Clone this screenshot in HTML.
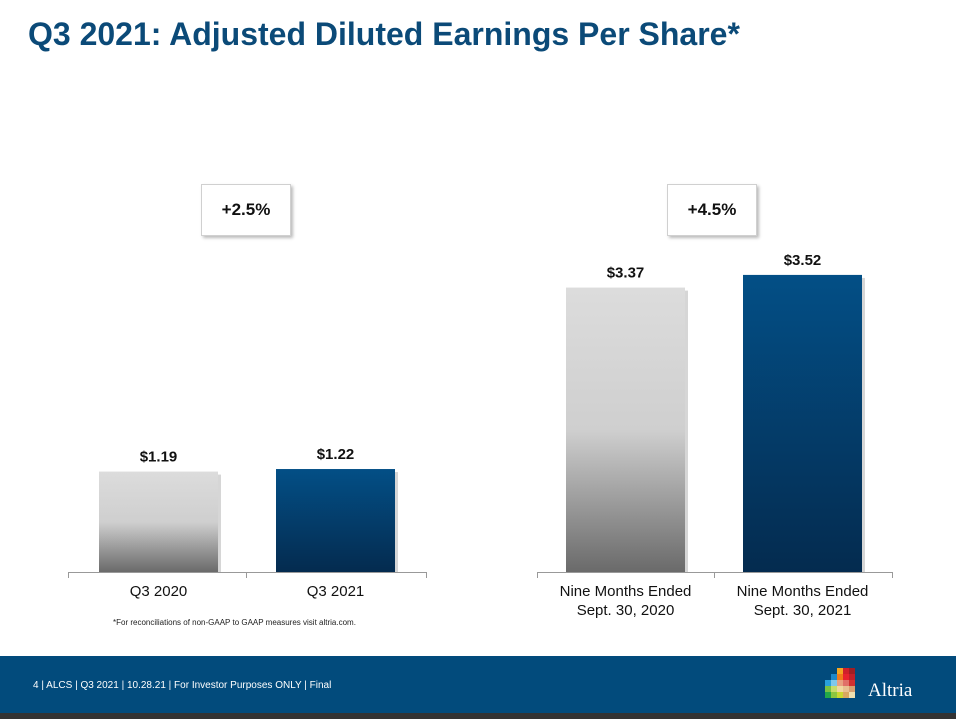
<!DOCTYPE html>
<html><head><meta charset="utf-8"><style>
body{margin:0;width:956px;height:719px;overflow:hidden;background:#fff;font-family:"Liberation Sans",sans-serif;position:relative}
.t{position:absolute;left:28px;top:16px;font-size:32px;font-weight:bold;color:#0b4a78}
.box{position:absolute;width:88px;height:50px;border:1px solid #d0d0d0;box-shadow:2px 2px 3px #bbb;background:#fff;font-weight:bold;font-size:17px;text-align:center;line-height:50px;color:#111}
.foot{position:absolute;left:0;top:656px;width:956px;height:57px;background:#024b7c}
.strip{position:absolute;left:0;top:713px;width:956px;height:6px;background:#333}
</style></head><body>
<div class="t">Q3 2021: Adjusted Diluted Earnings Per Share*</div>
<div class="box" style="left:201px;top:184px">+2.5%</div>
<div class="box" style="left:667px;top:184px">+4.5%</div>
<svg id="c" width="956" height="656" style="position:absolute;left:0;top:0">
<defs>
<linearGradient id="g" x1="0" y1="0" x2="0" y2="1"><stop offset="0" stop-color="#dcdcdc"/><stop offset="0.5" stop-color="#cfcfcf"/><stop offset="1" stop-color="#6a6a6a"/></linearGradient>
<linearGradient id="b" x1="0" y1="0" x2="0" y2="1"><stop offset="0" stop-color="#034f86"/><stop offset="1" stop-color="#042b4f"/></linearGradient>
</defs>
</svg>
<div style="position:absolute;left:113px;top:618px;font-size:8px;color:#222">*For reconciliations of non-GAAP to GAAP measures visit altria.com.</div>
<div class="foot">
<div style="position:absolute;left:33px;top:24px;font-size:10px;color:#fff">4 | ALCS | Q3 2021 | 10.28.21 | For Investor Purposes ONLY | Final</div>
<svg width="40" height="36" style="position:absolute;left:825px;top:12px">
<rect x="6" y="6" width="6" height="6" fill="#1e88c9"/><rect x="12" y="0" width="6" height="6" fill="#f5a623"/><rect x="18" y="0" width="6" height="6" fill="#d0202a"/><rect x="24" y="0" width="6" height="6" fill="#a01e24"/>
<rect x="0" y="12" width="6" height="6" fill="#29a0dd"/><rect x="6" y="12" width="6" height="6" fill="#7fc8ea"/><rect x="12" y="6" width="6" height="6" fill="#f07a1a"/><rect x="18" y="6" width="6" height="6" fill="#e8222e"/><rect x="24" y="6" width="6" height="6" fill="#c0202a"/>
<rect x="12" y="12" width="6" height="6" fill="#e8a080"/><rect x="18" y="12" width="6" height="6" fill="#e07068"/><rect x="24" y="12" width="6" height="6" fill="#d03030"/>
<rect x="0" y="18" width="6" height="6" fill="#7ac143"/><rect x="6" y="18" width="6" height="6" fill="#c8dc6a"/><rect x="12" y="18" width="6" height="6" fill="#f0d8a0"/><rect x="18" y="18" width="6" height="6" fill="#e8c090"/><rect x="24" y="18" width="6" height="6" fill="#d8a070"/>
<rect x="0" y="24" width="6" height="6" fill="#22a84a"/><rect x="6" y="24" width="6" height="6" fill="#8cc63f"/><rect x="12" y="24" width="6" height="6" fill="#c8d830"/><rect x="18" y="24" width="6" height="6" fill="#d8a860"/><rect x="24" y="24" width="6" height="6" fill="#f0e0b0"/>
</svg>
<div style="position:absolute;left:868px;top:24px;font-family:'Liberation Serif',serif;font-size:19px;color:#fff">Altria</div>
</div>
<div class="strip"></div>
<script>
const values=[1.19,1.22,3.37,3.52];
const valueLabels=["$1.19","$1.22","$3.37","$3.52"];
const categories=[["Q3 2020"],["Q3 2021"],["Nine Months Ended","Sept. 30, 2020"],["Nine Months Ended","Sept. 30, 2021"]];
const fills=["url(#g)","url(#b)","url(#g)","url(#b)"];
const base=572, pxPer=84.4;
const yScale=v=>base-v*pxPer;
const barX=[99,276,566,743], barW=119;
const svg=document.getElementById('c');
const NS='http://www.w3.org/2000/svg';
function mk(t,a){const e=document.createElementNS(NS,t);for(const k in a)e.setAttribute(k,a[k]);svg.appendChild(e);return e;}
[[68,246,426],[537,714,892]].forEach((ax,i)=>{
 const l=mk('line',{x1:ax[0],x2:ax[2],y1:base+0.5,y2:base+0.5,stroke:'#999'});
 
 
 ax.forEach(x=>{const t=mk('line',{x1:x+0.5,x2:x+0.5,y1:base,y2:base+6,stroke:'#999'});
 
 });
});
values.forEach((v,i)=>{
 const y=yScale(v),x=barX[i];
 const sh=mk('rect',{x:x+3,y:y+3,width:barW,height:base-y-3,fill:'#bbb',opacity:0.6});
 
 
 const r=mk('rect',{x:x,y:y,width:barW,height:base-y,fill:fills[i]});
 
 
 const t=mk('text',{x:x+barW/2,y:y-10,'text-anchor':'middle','font-size':15,'font-weight':'bold',fill:'#111'});
 t.textContent=valueLabels[i];
 
 
 categories[i].forEach((s,j)=>{const c=mk('text',{x:x+barW/2,y:596+j*19,'text-anchor':'middle','font-size':15,fill:'#111'});
 c.textContent=s;
 
 });
});
</script>
</body></html>
